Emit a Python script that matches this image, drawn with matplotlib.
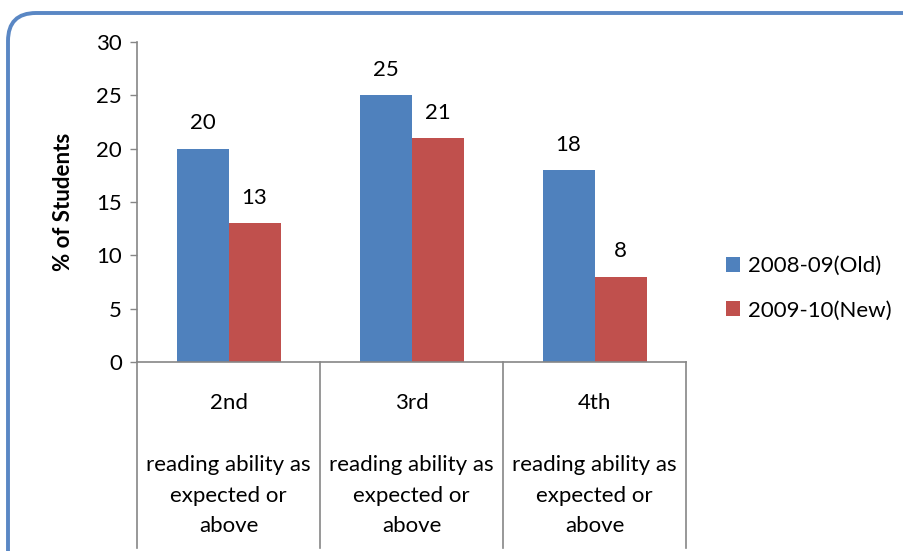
import matplotlib
matplotlib.use("Agg")
import matplotlib.pyplot as plt
from matplotlib.patches import FancyBboxPatch
import numpy as np

plt.rcParams['font.family'] = ['Lato', 'DejaVu Sans']

grades = ['2nd', '3rd', '4th']
sub_label = 'reading ability as\nexpected or\nabove'
old_vals = [20, 25, 18]
new_vals = [13, 21, 8]
series_names = ['2008-09(Old)', '2009-10(New)']

blue = '#4f81bd'
red = '#c0504d'
axis_grey = '#868686'
fs = 16

fig = plt.figure(figsize=(9.04, 5.51), dpi=100)
ax = fig.add_axes([0.1516, 0.343, 0.6073, 0.5808])

x = np.arange(len(grades))
w = 0.284
b1 = ax.bar(x - w / 2, old_vals, w, color=blue, label=series_names[0])
b2 = ax.bar(x + w / 2, new_vals, w, color=red, label=series_names[1])

for bars in (b1, b2):
    for rect in bars:
        ax.annotate(f"{rect.get_height():g}",
                    (rect.get_x() + rect.get_width() / 2, rect.get_height()),
                    xytext=(0, 11), textcoords='offset points',
                    ha='center', va='bottom', fontsize=fs)

ax.set_xlim(-0.5, len(grades) - 0.5)
ax.set_ylim(0, 30)
ax.set_yticks(range(0, 31, 5))
ax.tick_params(axis='y', length=5, width=1, color=axis_grey, labelsize=fs, pad=6)
ax.set_xticks([])
for s in ('top', 'right'):
    ax.spines[s].set_visible(False)
for s in ('left', 'bottom'):
    ax.spines[s].set_color(axis_grey)
    ax.spines[s].set_linewidth(1.2)

ax.set_ylabel('% of Students', fontsize=fs, fontweight='bold', labelpad=16)

# category labels and dividers below the axis
tr = ax.get_xaxis_transform()
for i, g in enumerate(grades):
    ax.text(i, -0.128, g, transform=tr, ha='center', va='center', fontsize=fs)
    ax.text(i, -0.418, sub_label, transform=tr, ha='center', va='center',
            fontsize=fs, linespacing=1.65)
for xd in np.arange(len(grades) + 1) - 0.5:
    ax.plot([xd, xd], [0, -0.58], transform=tr, color=axis_grey, lw=1.2,
            clip_on=False)

ax.legend(loc='center left', bbox_to_anchor=(1.073, 0.23), frameon=False,
          fontsize=fs, handlelength=0.64, handleheight=0.64,
          handletextpad=0.35, labelspacing=1.1, borderpad=0, borderaxespad=0)

# rounded outer border
border = FancyBboxPatch((8, -30), 930, 568,
                        boxstyle="round,pad=0,rounding_size=28",
                        transform=None, fill=False, edgecolor='#5a87c4', lw=2.8)
fig.patches.append(border)

fig.savefig('out.png', dpi=100)
